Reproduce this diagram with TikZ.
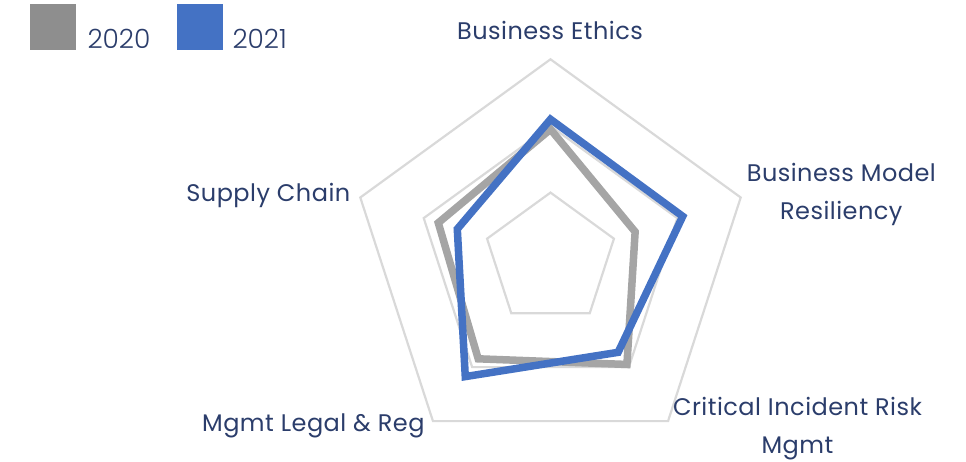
\documentclass[tikz,border=0pt]{standalone}
\usepackage{fontspec}
\setmainfont{Poppins}[LetterSpace=2]
\newfontfamily\lightfont{Poppins Light}
\usetikzlibrary{calc}
\definecolor{grid-gray}{HTML}{D9D9D9}
\definecolor{old-gray}{HTML}{A5A5A5}
\definecolor{key-gray}{HTML}{8E8E8E}
\definecolor{new-blue}{HTML}{4472C4}
\definecolor{label-navy}{HTML}{2B3D6B}
\tikzstyle{gridring}=[grid-gray,line width=2.2pt,line join=miter]
\tikzstyle{series}=[line width=7.5pt,line join=miter]
\tikzstyle{axislabel}=[text=label-navy,font=\fontsize{24}{37.5}\selectfont,align=center,inner sep=0pt,anchor=base]
\tikzstyle{keytext}=[text=label-navy,font=\lightfont\fontsize{26.5}{30}\selectfont,inner sep=0pt,anchor=base west]
\newcommand{\drawring}[1]{
  \draw[gridring] (90:#1) -- (18:#1) -- (-54:#1) -- (-126:#1) -- (162:#1) -- cycle;
}
% Syntax: \drawseries{options}{ethics}{model}{incident}{legal}{supply}, values as fractions of \radius
\newcommand{\drawseries}[6]{
  \draw[series,#1] (90:#2*\radius) -- (18:#3*\radius) -- (-54:#4*\radius) -- (-126:#5*\radius) -- (162:#6*\radius) -- cycle;
}

\begin{document}
\begin{tikzpicture}[x=1pt,y=1pt]
\useasboundingbox (0,0) rectangle (966,462);
\pgfmathsetmacro{\radius}{200}
\begin{scope}[shift={(550.5,202.7)}]
	% rings
	\foreach \r in {66.7,133.3,200} {
		\drawring{\r}
	}
	% data
	\drawseries{old-gray}{0.65}{0.445}{0.65}{0.615}{0.59}
	\drawseries{new-blue}{0.70}{0.695}{0.575}{0.725}{0.49}
\end{scope}
% axis labels (base anchor sits on the last line)
\node[axislabel] (ethics) at (550,422.7) {Business Ethics};
\node[axislabel] (model) at (841.3,242.7) {Business Model\\Resiliency};
\node[axislabel] (incident) at (797.5,8.7) {Critical Incident Risk\\Mgmt};
\node[axislabel] (legal) at (313.3,30.3) {Mgmt Legal \& Reg};
\node[axislabel] (supply) at (268.3,260.3) {Supply Chain};
% legend
\fill[key-gray] (30,412) rectangle (76,458);
\node[keytext] (key2020) at (87.3,413.7) {2020};
\fill[new-blue] (177,412) rectangle (222.7,458);
\node[keytext] (key2021) at (232.3,413.7) {2021};
\end{tikzpicture}
\end{document}
